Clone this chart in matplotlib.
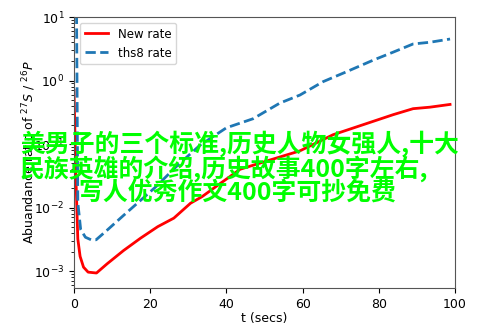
import matplotlib
matplotlib.use("Agg")
import matplotlib.pyplot as plt

# Data
t_new = [0.0, 0.5, 1.0, 1.6, 2.5, 3.7, 5.9, 8.7, 13.0, 17.5, 22.0, 26.2, 30.6, 33.6, 38.0, 43.6, 50.6, 59.3, 68.0, 76.8, 83.8, 89.0, 93.4, 98.7]
v_new = [0.7, 0.03, 0.0032, 0.0017, 0.00115, 0.00096, 0.00093, 0.0013, 0.0021, 0.0033, 0.005, 0.0068, 0.0117, 0.0148, 0.023, 0.04, 0.054, 0.078, 0.14, 0.21, 0.29, 0.36, 0.38, 0.42]

t_ths8 = [0.6, 1.0, 1.75, 3.0, 4.5, 5.8, 8.7, 13.1, 17.5, 21.4, 27.0, 33.0, 40.0, 47.0, 54.0, 59.3, 65.4, 71.6, 78.6, 83.8, 89.0, 93.4, 98.7]
v_ths8 = [50.0, 0.012, 0.0045, 0.0034, 0.0031, 0.0031, 0.0044, 0.0076, 0.013, 0.021, 0.045, 0.095, 0.18, 0.25, 0.44, 0.59, 0.96, 1.38, 2.1, 2.8, 3.76, 4.0, 4.5]

labels = ["New rate", "ths8 rate"]
overlay_lines = ["美男子的三个标准,历史人物女强人,十大",
                 "民族英雄的介绍,历史故事400字左右,",
                 "写人优秀作文400字可抄免费"]

W, H = 493, 329
fig = plt.figure(figsize=(W / 100, H / 100), dpi=100)
ax = fig.add_axes([74 / W, 1 - 288 / H, (455 - 74) / W, (288 - 17) / H])

ax.plot(t_new, v_new, color="red", lw=2, label=labels[0])
ax.plot(t_ths8, v_ths8, color="#1f77b4", lw=2, ls="--", label=labels[1])
ax.set_yscale("log")
ax.set_xlim(0, 100)
ax.set_ylim(5.4e-4, 10)
ax.tick_params(labelsize=9)
ax.set_xlabel("t (secs)", fontsize=9, labelpad=1)
ax.set_ylabel("Abuandance ratio of $^{27}S$ / $^{26}P$", fontsize=9, labelpad=-3)
for s in ax.spines.values():
    s.set_color("#555555")
ax.legend(loc="upper left", fontsize=8.5)

ys = [144, 169, 193]
xs = [20, 20, 78]
for txt, x, y in zip(overlay_lines, xs, ys):
    fig.text(x / W, 1 - y / H, txt, fontsize=17.9, color="#00ff00",
             family=["Noto Sans CJK SC", "DejaVu Sans"], weight="bold",
             ha="left", va="center")

fig.savefig("out.png", dpi=100)
